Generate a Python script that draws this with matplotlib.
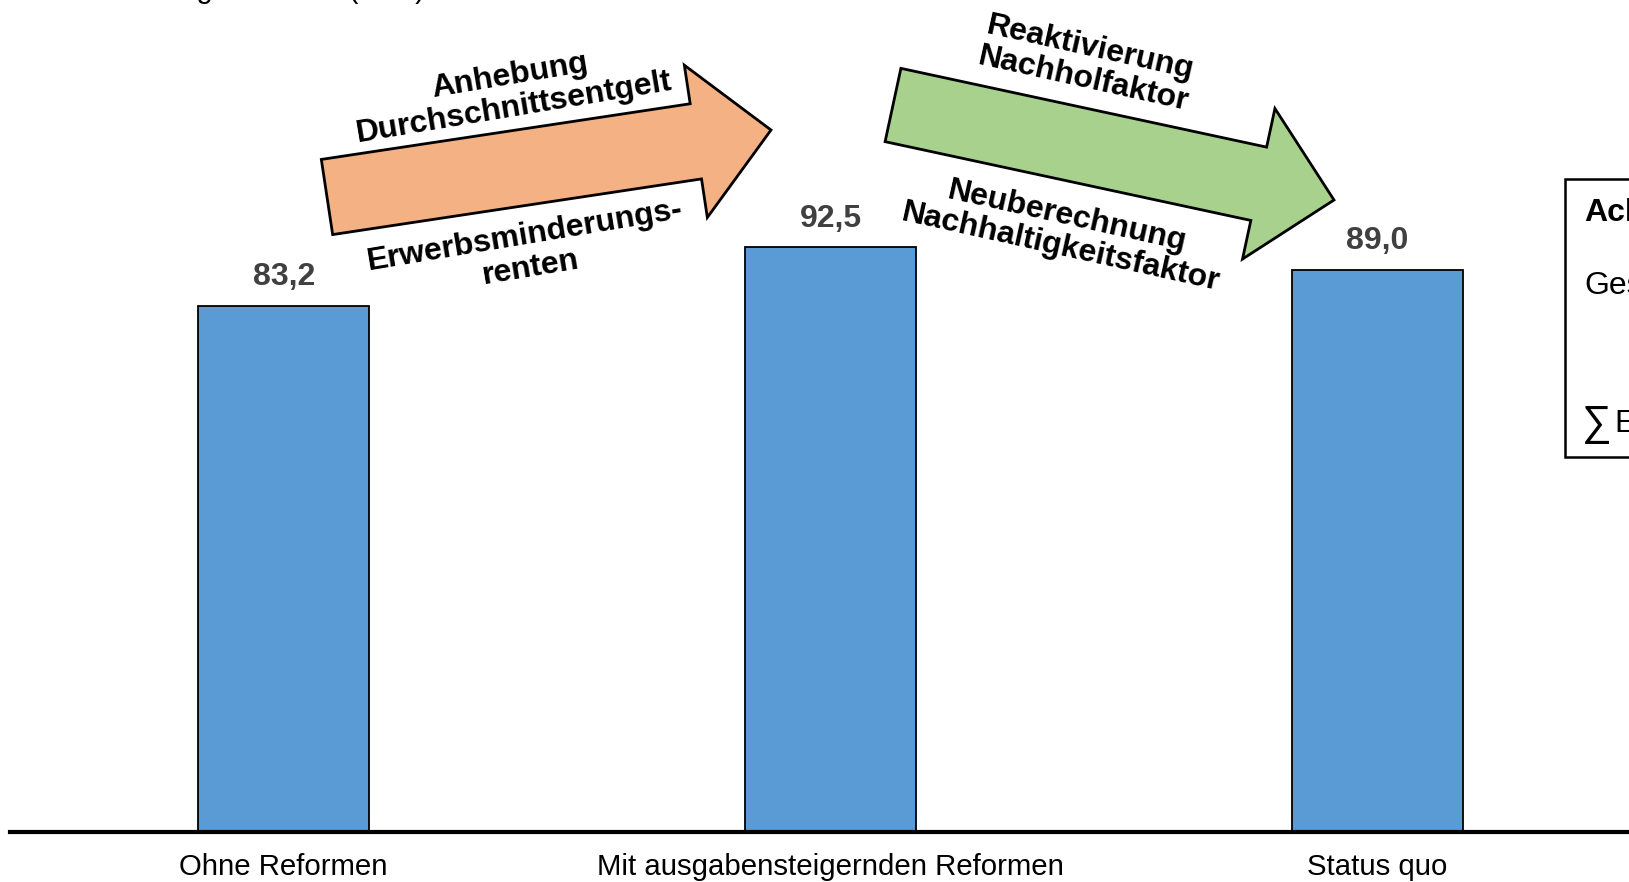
import numpy as np
import matplotlib
matplotlib.use("Agg")
import matplotlib.pyplot as plt
from matplotlib.patches import Polygon, Rectangle

plt.rcParams["font.family"] = ["Liberation Sans", "DejaVu Sans"]

# data
categories = ["Ohne Reformen", "Mit ausgabensteigernden Reformen", "Status quo"]
values = [83.2, 92.5, 89.0]
value_labels = ["83,2", "92,5", "89,0"]

arrow1_top = "Anhebung\nDurchschnittsentgelt"
arrow1_bottom = "Erwerbsminderungs-\nrenten"
arrow2_top = "Reaktivierung\nNachholfaktor"
arrow2_bottom = "Neuberechnung\nNachhaltigkeitsfaktor"

W, H = 1629, 882
BAR_COLOR = "#5B9BD5"
ORANGE = "#F4B183"
GREEN = "#A9D18E"


def px(x, y):
    # pixel position (top-left origin) -> figure fraction
    return x / W, 1 - y / H


def arrow_polygon(x0, y0, x1, y1, w, hw, hl):
    p0 = np.array([x0, y0], float)
    p1 = np.array([x1, y1], float)
    u = (p1 - p0) / np.linalg.norm(p1 - p0)
    n = np.array([-u[1], u[0]])
    neck = p1 - hl * u
    pts = [p0 + n * w / 2, neck + n * w / 2, neck + n * hw / 2, p1,
           neck - n * hw / 2, neck - n * w / 2, p0 - n * w / 2]
    return [px(*p) for p in pts]


fig = plt.figure(figsize=(W / 100, H / 100), dpi=100)

# axes wider than the figure so the right part is cut off like in the original
spacing = 546.7
left_px = 10.4
bottom_px = 832
ax = fig.add_axes([left_px / W, 1 - bottom_px / H, 3 * spacing / W, bottom_px / H])
x = np.arange(len(categories))
ax.bar(x, values, width=0.313, color=BAR_COLOR, edgecolor="black", linewidth=1.3, zorder=2)
ax.set_xlim(-0.5, 2.5)
ax.set_ylim(0, bottom_px / 6.32)

for xi, v, lab in zip(x, values, value_labels):
    ax.annotate(lab, (xi, v), xytext=(0, 10), textcoords="offset points",
                ha="center", va="bottom", fontsize=23, fontweight="bold", color="#404040")

ax.set_xticks(x)
ax.set_xticklabels(categories, fontsize=21.2)
ax.tick_params(axis="x", length=0, pad=15)
ax.set_yticks([])
for s in ["left", "right", "top"]:
    ax.spines[s].set_visible(False)
ax.spines["bottom"].set_linewidth(3)

# title, mostly cut off at the top edge
fig.text(75 / W, 1 + 2 / H, "Nachhaltigkeitslücke (in %)", fontsize=21,
         va="baseline", ha="left")

# arrows
orange = Polygon(arrow_polygon(327, 197, 771, 130, 76, 154, 76), closed=True,
                 facecolor=ORANGE, edgecolor="black", linewidth=2,
                 transform=fig.transFigure, zorder=3)
green = Polygon(arrow_polygon(893, 105, 1334, 200, 75, 154, 77), closed=True,
                facecolor=GREEN, edgecolor="black", linewidth=2,
                transform=fig.transFigure, zorder=3)
fig.patches.extend([orange, green])

txt_kw = dict(fontsize=23, fontweight="bold", ha="center", va="center",
              rotation_mode="anchor", multialignment="center", linespacing=1.08)
fig.text(*px(512, 92), arrow1_top, rotation=9.5, **txt_kw)
fig.text(*px(528, 252), arrow1_bottom, rotation=9.5, **txt_kw)
fig.text(*px(1087, 64), arrow2_top, rotation=-12.5, **txt_kw)
fig.text(*px(1064, 232), arrow2_bottom, rotation=-12.5, **txt_kw)

# side box, cut off at the right edge
box = Rectangle(px(1565, 457), 200 / W, (457 - 179) / H, transform=fig.transFigure,
                facecolor="white", edgecolor="black", linewidth=1.8)
fig.patches.append(box)
fig.text(*px(1584, 213), "Achtung:", fontsize=23, fontweight="bold", va="center")
fig.text(*px(1584, 286), "Gesamteffekt", fontsize=23, va="center")
fig.text(*px(1582, 424), "∑", fontsize=30, va="center")
fig.text(*px(1614, 424), "Einzeleffekte", fontsize=23, va="center")

fig.savefig("out.png", dpi=100)
